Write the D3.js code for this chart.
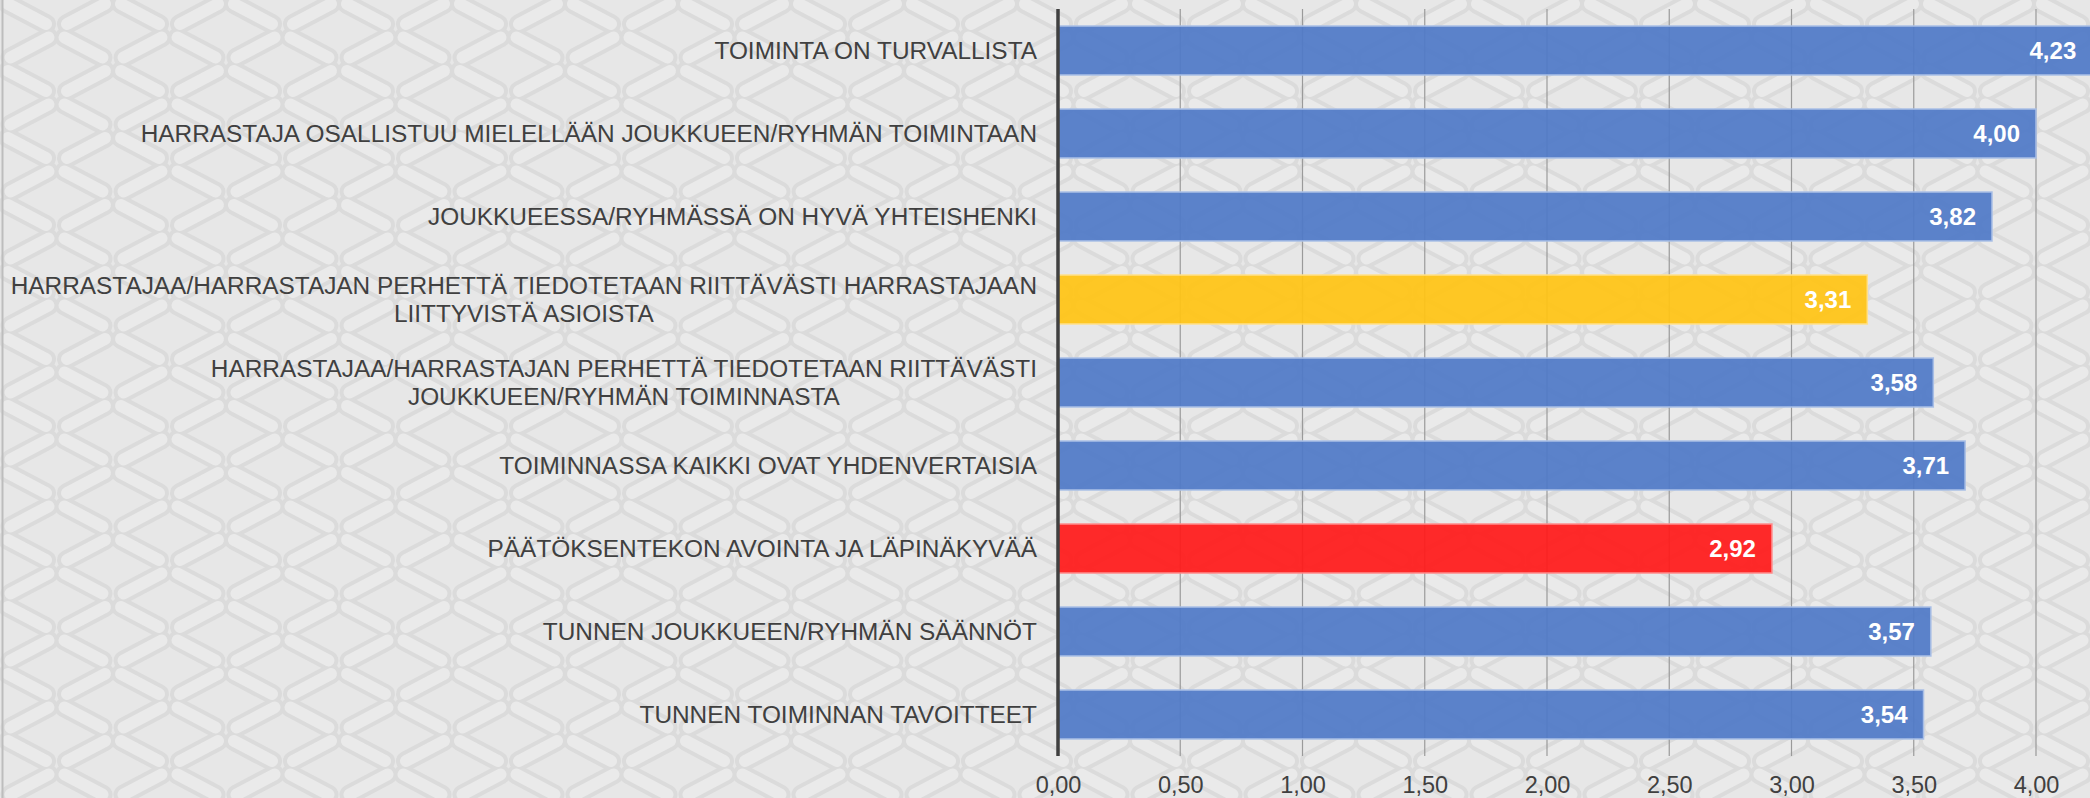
<!DOCTYPE html>
<html>
<head>
<meta charset="utf-8">
<script src="https://cdn.jsdelivr.net/npm/d3@7"></script>
<style>
  html, body { margin: 0; padding: 0; background: #e7e7e7; }
  svg { display: block; }
  text { font-family: "Liberation Sans", Arial, sans-serif; }
</style>
</head>
<body>
<svg id="chart" width="2090" height="798"></svg>
<script>
// ---- DATA ----
const categories = [
  "TOIMINTA ON TURVALLISTA",
  "HARRASTAJA OSALLISTUU MIELELLÄÄN JOUKKUEEN/RYHMÄN TOIMINTAAN",
  "JOUKKUEESSA/RYHMÄSSÄ ON HYVÄ YHTEISHENKI",
  "HARRASTAJAA/HARRASTAJAN PERHETTÄ TIEDOTETAAN RIITTÄVÄSTI HARRASTAJAAN\nLIITTYVISTÄ ASIOISTA",
  "HARRASTAJAA/HARRASTAJAN PERHETTÄ TIEDOTETAAN RIITTÄVÄSTI\nJOUKKUEEN/RYHMÄN TOIMINNASTA",
  "TOIMINNASSA KAIKKI OVAT YHDENVERTAISIA",
  "PÄÄTÖKSENTEKON AVOINTA JA LÄPINÄKYVÄÄ",
  "TUNNEN JOUKKUEEN/RYHMÄN SÄÄNNÖT",
  "TUNNEN TOIMINNAN TAVOITTEET"
];
const values = [4.23, 4.00, 3.82, 3.31, 3.58, 3.71, 2.92, 3.57, 3.54];
const tickValues = [0, 0.5, 1.0, 1.5, 2.0, 2.5, 3.0, 3.5, 4.0];

// ---- STYLE ----
const W = 2090, H = 798;
const colBlue = "#507ac7", colYellow = "#ffc414", colRed = "#ff1a1a";
const barColor = i => i === 3 ? colYellow : (i === 6 ? colRed : colBlue);
const barStroke = i => i === 3 ? "#ffe08a" : (i === 6 ? "#ff8a8a" : "#a9bfe6");
const fmt = v => d3.format(".2f")(v).replace(".", ",");

const svg = d3.select("#chart");

// background pattern (decoration)
const bg = svg.append("g");
bg.append("rect").attr("width", W).attr("height", H).attr("fill", "#e7e7e7");
const pw = 113, ph = 67;
const arms = [];
for (let r = -1; r <= Math.ceil(H / ph) + 1; r++) {
  for (let c = -1; c <= Math.ceil(W / pw) + 1; c++) {
    [[0, 0], [pw / 2, ph / 2]].forEach(([ox, oy]) => {
      const x0 = c * pw + ox, y0 = r * ph + oy;
      arms.push([x0 + 8, y0 + 4, x0 + 46, y0 + 24]);
      arms.push([x0 + 67, y0 + 24, x0 + 105, y0 + 4]);
    });
  }
}
bg.selectAll("line.o").data(arms).join("line").attr("class", "o")
  .attr("x1", d => d[0]).attr("y1", d => d[1]).attr("x2", d => d[2]).attr("y2", d => d[3])
  .attr("stroke", "#dbdbdb").attr("stroke-width", 20).attr("stroke-linecap", "round");
bg.selectAll("line.i").data(arms).join("line").attr("class", "i")
  .attr("x1", d => d[0]).attr("y1", d => d[1]).attr("x2", d => d[2]).attr("y2", d => d[3])
  .attr("stroke", "#eaeaea").attr("stroke-width", 12).attr("stroke-linecap", "round");

// left border
svg.append("line").attr("x1", 2.5).attr("x2", 2.5).attr("y1", 0).attr("y2", H)
  .attr("stroke", "#bdbdbd").attr("stroke-width", 2);

// scales
const x = d3.scaleLinear().domain([0, 4]).range([1058, 2036]);
const y = d3.scaleBand().domain(d3.range(categories.length)).range([9, 756])
  .paddingInner(0.41).paddingOuter(0.205);

// gridlines
svg.append("g").selectAll("line").data(tickValues.filter(t => t > 0)).join("line")
  .attr("x1", d => x(d)).attr("x2", d => x(d))
  .attr("y1", 9).attr("y2", 756)
  .attr("stroke", "#9a9a9a").attr("stroke-width", 1.2);

// bars
svg.append("g").selectAll("rect").data(values).join("rect")
  .attr("x", x(0)).attr("y", (d, i) => y(i))
  .attr("width", d => x(d) - x(0)).attr("height", y.bandwidth())
  .attr("fill", (d, i) => barColor(i)).attr("fill-opacity", 0.93)
  .attr("stroke", (d, i) => barStroke(i)).attr("stroke-width", 1.5);

// value labels
svg.append("g").selectAll("text").data(values).join("text")
  .attr("x", d => x(d) - 16).attr("y", (d, i) => y(i) + y.bandwidth() / 2)
  .attr("dy", "0.35em").attr("text-anchor", "end")
  .attr("fill", "#ffffff").attr("font-weight", "bold").attr("font-size", "24px")
  .text(d => fmt(d));

// x axis ticks
const xAxis = d3.axisBottom(x).tickValues(tickValues).tickSize(0).tickPadding(0).tickFormat(fmt);
const gx = svg.append("g").attr("transform", "translate(0,756)").call(xAxis);
gx.select(".domain").remove();
gx.selectAll("text").attr("font-size", "23.5px").attr("fill", "#404040")
  .attr("font-family", "Liberation Sans, Arial, sans-serif").attr("y", 29).attr("dy", "0.35em");

// y axis line
svg.append("line").attr("x1", x(0)).attr("x2", x(0)).attr("y1", 9).attr("y2", 756)
  .attr("stroke", "#404040").attr("stroke-width", 3.5);

// category labels
const labelRight = 1037, lineH = 28.3;
const lg = svg.append("g");
categories.forEach((cat, i) => {
  const lines = cat.split("\n");
  const cy = y(i) + y.bandwidth() / 2;
  const t = lg.append("text").attr("font-size", "24.4px").attr("fill", "#404040")
    .attr("text-anchor", "middle");
  const spans = lines.map((ln, k) => t.append("tspan").text(ln));
  const maxW = d3.max(spans, s => s.node().getComputedTextLength());
  const cx = labelRight - maxW / 2;
  spans.forEach((s, k) => {
    s.attr("x", cx).attr("y", cy + (k - (lines.length - 1) / 2) * lineH).attr("dy", "0.35em");
  });
});
</script>
</body>
</html>
